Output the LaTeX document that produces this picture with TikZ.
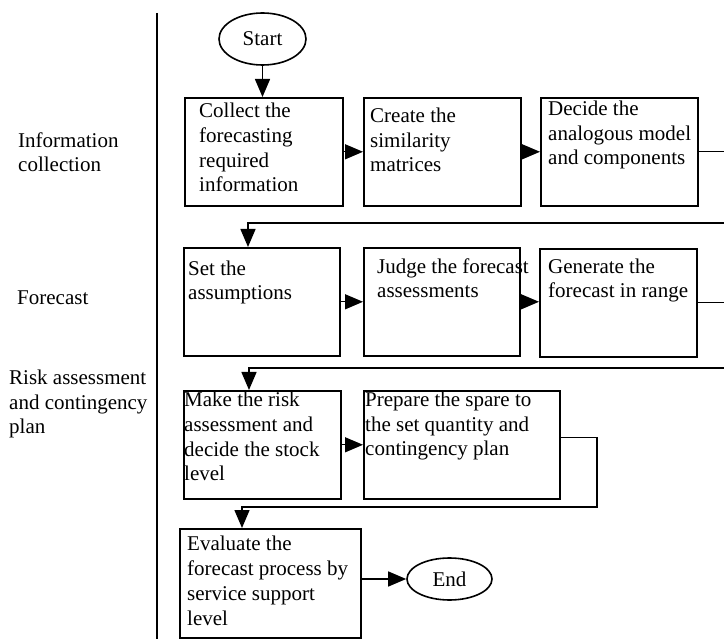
\documentclass[tikz,border=0pt]{standalone}
\usepackage{fontspec}
\setmainfont{Liberation Serif}
\usetikzlibrary{shapes.geometric,arrows.meta,calc}
\begin{document}
\begin{tikzpicture}[x=1pt,y=-1pt,
  box/.style={draw,line width=1.6pt,anchor=north west,inner sep=0pt},
  txt/.style={anchor=base west,align=left,inner sep=0pt,font=\fontsize{21}{24.7}\selectfont},
  oval/.style={draw,ellipse,line width=1.6pt,inner sep=0pt,font=\fontsize{21}{25}\selectfont},
  arr/.style={line width=1.4pt,-{Triangle[length=18pt,width=15pt]}}]
  \useasboundingbox (0,0) rectangle (724,639);
  \clip (0,0) rectangle (724,639);
  % swim lane divider
  \coordinate (lanetop) at (157,13);
  \coordinate (lanebot) at (157,639);
  \draw[line width=1.5pt] (lanetop) -- (lanebot);
  % lane titles (placed by the baseline of their last line)
  \node[txt] (laneinfo) at (18,172) {Information\\collection};
  \node[txt] (lanefc) at (17,305) {Forecast};
  \node[txt] (lanerisk) at (9,434) {Risk assessment\\and contingency\\plan};
  % terminals
  \node[oval,minimum width=87pt,minimum height=52pt] (start) at (262.5,39) {Start};
  \node[oval,minimum width=85pt,minimum height=42pt] (end) at (449.5,579) {End};
  % boxes
  \node[box,minimum width=158pt,minimum height=108pt] (collect) at (184,97) {};
  \node[box,minimum width=157pt,minimum height=108pt] (create) at (363,97) {};
  \node[box,minimum width=157pt,minimum height=108pt] (decide) at (540,97) {};
  \node[box,minimum width=156pt,minimum height=108pt] (assume) at (183,247) {};
  \node[box,minimum width=156pt,minimum height=108pt] (judge) at (363,247) {};
  \node[box,minimum width=157pt,minimum height=108pt] (generate) at (539,248) {};
  \node[box,minimum width=157pt,minimum height=108pt] (risk) at (183,390) {};
  \node[box,minimum width=196pt,minimum height=108pt] (prepare) at (363,390) {};
  \node[box,minimum width=181pt,minimum height=109pt] (evaluate) at (179,528) {};
  % box texts
  \node[txt] (collecttxt) at (199,192) {Collect the\\forecasting\\required\\information};
  \node[txt] (createtxt) at (370,172) {Create the\\similarity\\matrices};
  \node[txt] (decidetxt) at (548,165) {Decide the\\analogous model\\and components};
  \node[txt] (assumetxt) at (188,300) {Set the\\assumptions};
  \node[txt] (judgetxt) at (377,298) {Judge the forecast\\assessments};
  \node[txt] (generatetxt) at (548,298) {Generate the\\forecast in range};
  \node[txt] (risktxt) at (184,481) {Make the risk\\assessment and\\decide the stock\\level};
  \node[txt] (preparetxt) at (365,456) {Prepare the spare to\\the set quantity and\\contingency plan};
  \node[txt] (evaluatetxt) at (187,625) {Evaluate the\\forecast process by\\service support\\level};
  % connectors
  \draw[arr] (start) -- (start |- collect.north);
  \draw[arr] (collect.east) -- (create.west);
  \draw[arr] (create.east) -- (decide.west);
  \coordinate (turn1) at (740,223);
  \draw[arr] (decide.east) -| (turn1) -| ([xshift=65pt]assume.north west);
  \draw[arr] (assume.east) -- (judge.west);
  \draw[arr] (judge.east) -- (generate.west |- judge.east);
  \coordinate (turn2) at (740,368);
  \draw[arr] (generate.east) -| (turn2) -| ([xshift=66pt]risk.north west);
  \draw[arr] (risk.east) -- (prepare.west);
  \coordinate (turn3) at (597,507);
  \draw[arr] ([yshift=7pt]prepare.east) -| (turn3) -| ([xshift=63pt]evaluate.north west);
  \draw[arr] (evaluate.east |- end) -- (end);
\end{tikzpicture}
\end{document}
